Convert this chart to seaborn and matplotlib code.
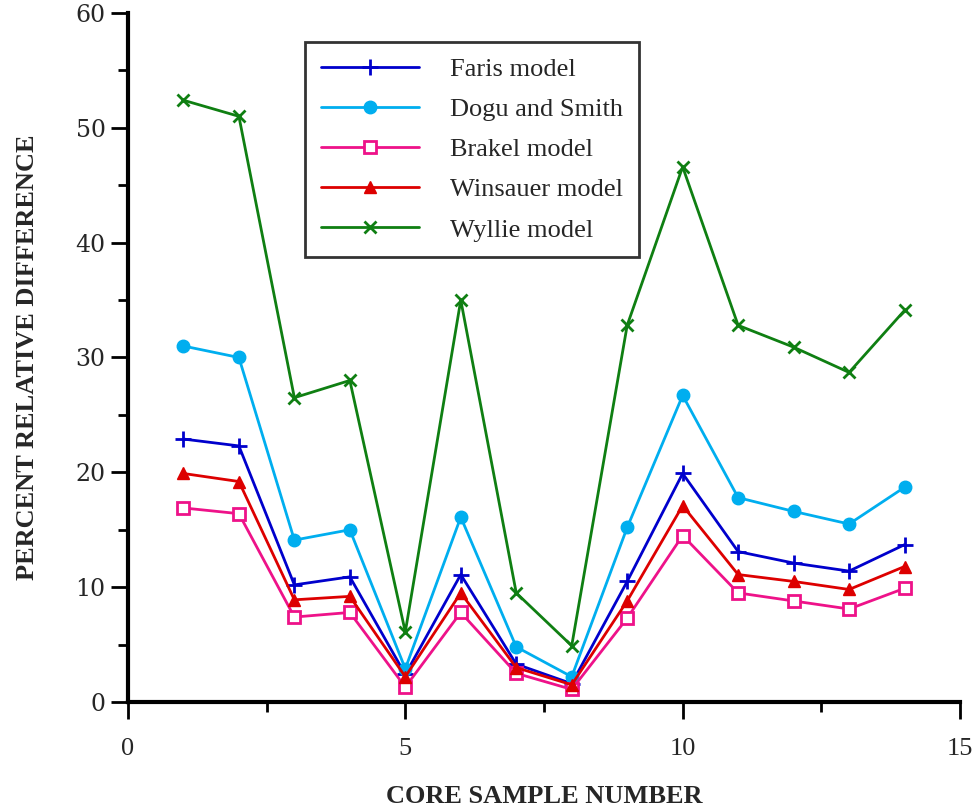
import pandas as pd
import matplotlib
matplotlib.use("Agg")
import matplotlib.pyplot as plt
import seaborn as sns
from matplotlib.ticker import MultipleLocator

# Core sample numbers
samples = list(range(1, 15))

# Percent relative difference per model
faris = [22.9, 22.3, 10.2, 10.9, 2.4, 11.1, 3.3, 1.6, 10.5, 19.9, 13.1, 12.1, 11.4, 13.7]
dogu_smith = [31.0, 30.0, 14.1, 15.0, 2.9, 16.1, 4.8, 2.2, 15.2, 26.7, 17.8, 16.6, 15.5, 18.7]
brakel = [16.9, 16.4, 7.4, 7.8, 1.3, 7.8, 2.5, 1.1, 7.3, 14.5, 9.5, 8.8, 8.1, 9.9]
winsauer = [19.9, 19.2, 8.9, 9.2, 2.2, 9.5, 3.0, 1.5, 8.8, 17.1, 11.1, 10.5, 9.8, 11.8]
wyllie = [52.4, 51.0, 26.5, 28.0, 6.1, 35.0, 9.5, 4.9, 32.8, 46.6, 32.8, 30.9, 28.7, 34.1]

model_names = ["Faris model", "Dogu and Smith", "Brakel model", "Winsauer model", "Wyllie model"]

sns.set_style("white")
plt.rcParams['font.family'] = ['Liberation Serif', 'DejaVu Serif']

fig = plt.figure(figsize=(9.79, 8.10), dpi=100)
ax = fig.add_axes([0.1307, 0.1333, 0.8499, 0.8507])

# style per series: color, marker, marker size, filled
styles = {
    "Faris model": ("#0000CC", "+", 12, True),
    "Dogu and Smith": ("#00AEEF", "o", 9, True),
    "Brakel model": ("#EE1289", "s", 8, False),
    "Winsauer model": ("#DD0000", "^", 9, True),
    "Wyllie model": ("#0F7F12", "x", 9, True),
}
values = [faris, dogu_smith, brakel, winsauer, wyllie]

for name, vals in zip(model_names, values):
    color, marker, ms, filled = styles[name]
    df = pd.DataFrame({"sample": samples, "value": vals})
    sns.lineplot(data=df, x="sample", y="value", ax=ax, color=color, marker=marker,
                 markersize=ms, linewidth=2, label=name,
                 markerfacecolor=color if filled else "white",
                 markeredgecolor=color, markeredgewidth=2 if marker in "+xs" else 1)

ax.set_xlim(0, 15)
ax.set_ylim(0, 60)
ax.xaxis.set_major_locator(MultipleLocator(5))
ax.xaxis.set_minor_locator(MultipleLocator(2.5))
ax.yaxis.set_major_locator(MultipleLocator(10))
ax.yaxis.set_minor_locator(MultipleLocator(5))

for side in ["top", "right"]:
    ax.spines[side].set_visible(False)
for side in ["left", "bottom"]:
    ax.spines[side].set_linewidth(3)
    ax.spines[side].set_color("black")

ax.tick_params(axis="both", which="major", direction="out", length=12, width=2,
               color="black", bottom=True, left=True)
ax.tick_params(axis="both", which="minor", direction="out", length=7, width=2,
               color="black", bottom=True, left=True)
ax.tick_params(axis="x", which="major", pad=14, labelsize=19)
ax.tick_params(axis="y", which="major", pad=4, labelsize=17, labelfontfamily="DejaVu Serif")

ax.set_xlabel("CORE SAMPLE NUMBER", fontsize=19, fontweight="bold", labelpad=18)
ax.set_ylabel("PERCENT RELATIVE DIFFERENCE", fontsize=19, fontweight="bold", labelpad=26)

leg = ax.legend(loc="upper left", bbox_to_anchor=(0.213, 0.958), fontsize=19,
                frameon=True, fancybox=False, edgecolor="black", handlelength=3.7,
                handletextpad=1.2, labelspacing=0.63, borderpad=0.6, borderaxespad=0)
leg.get_frame().set_linewidth(2)

fig.savefig("out.png", dpi=100)
